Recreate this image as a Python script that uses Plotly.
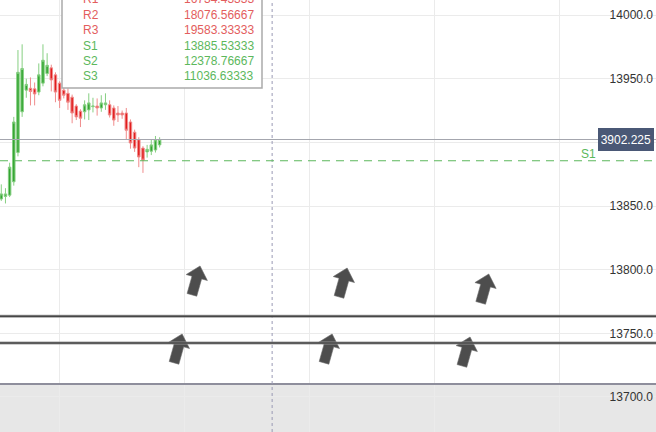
import numpy as np
import plotly.graph_objects as go

# ---- data ----
t = list(range(39))
opens  = [13855.5,13857.5,13858.5,13869,13892,13924,13941,13942.5,13942,13939.5,13946.5,13954,13958.5,13953,13946.5,13941,13938.5,13935.5,13928.5,13924.5,13924,13925.5,13928,13928.5,13927,13929.5,13929.5,13927,13923,13923,13923,13916,13908,13902,13895.5,13892.5,13893,13894,13898]
highs  = [13867,13864,13884,13920,13972.5,13977,13950,13951,13947,13962,13977,13970,13961,13955,13948,13945,13942.5,13937.5,13930,13926,13933,13938.5,13935,13934.5,13937,13938.5,13933,13929,13928.5,13925,13927,13918,13910,13904,13897,13898,13902,13905,13904]
lows   = [13854,13852,13857,13866,13889,13920,13935,13929,13929,13937,13944,13952,13940,13931.5,13927,13934.5,13925.5,13915,13917.5,13912,13918,13917.5,13923.5,13921,13924,13925.5,13919.5,13913,13916,13918.5,13902,13895,13892.5,13880.5,13876,13888,13890,13892,13896]
closes = [13859.5,13859.5,13880.5,13916,13955,13958,13945.5,13940,13938,13953,13964.5,13960.5,13949,13939.5,13933,13937,13931.5,13923,13920,13919,13929.5,13931,13928.5,13927,13931,13931,13921.5,13917.5,13921.5,13921.5,13909.5,13899.5,13895.5,13888.5,13886,13894.5,13898,13902,13902.225]

last_price = 13902.225
pivot_names  = ["P", "R1", "R2", "R3", "S1", "S2", "S3"]
pivot_values = [15227.66667, 16734.43333, 18076.56667, 19583.33333, 13885.53333, 12378.76667, 11036.63333]

level_lines = [13763.5, 13742.5]
shade_top = 13710.2
marker_time = 65

arrow_t     = [47.7, 83.0, 117.0, 43.4, 79.4, 112.5]
arrow_price = [13802.9, 13801.3, 13796.6, 13749.5, 13749.5, 13747.1]

grid_t = [14, 44, 74, 104, 134]

FONT = "Liberation Sans, Arial, sans-serif"
GREEN = "#5cb85c"
RED = "#e35d5d"

fig = go.Figure()
fig.add_trace(go.Candlestick(
    x=t, open=opens, high=highs, low=lows, close=closes,
    increasing=dict(line=dict(color="#86cf82", width=1), fillcolor="#34a532"),
    decreasing=dict(line=dict(color="#f08c8c", width=1), fillcolor="#e11d1d"),
    whiskerwidth=0, showlegend=False, hoverinfo="skip",
))

shapes = []
# shaded lower region
shapes.append(dict(type="rect", xref="paper", yref="y", x0=0, x1=1, y0=13000, y1=shade_top,
                   fillcolor="#e7e7e7", line=dict(width=0), layer="below"))
shapes.append(dict(type="line", xref="paper", yref="y", x0=0, x1=1, y0=shade_top, y1=shade_top,
                   line=dict(color="#8e8e9c", width=2)))
# vertical dashed marker
shapes.append(dict(type="line", xref="x", yref="paper", x0=marker_time, x1=marker_time, y0=0, y1=1,
                   line=dict(color="#9a9ab4", width=1, dash="3px,3px")))
# last price line
shapes.append(dict(type="line", xref="paper", yref="y", x0=0, x1=1, y0=last_price, y1=last_price,
                   line=dict(color="#a4a6ae", width=1)))
# S1 dashed line
s1 = pivot_values[pivot_names.index("S1")]
shapes.append(dict(type="line", xref="paper", yref="y", x0=0, x1=1, y0=s1, y1=s1,
                   line=dict(color=GREEN, width=1.2, dash="8px,6px")))

# arrows (pixel-sized path anchored at data points)
theta = np.deg2rad(15.7)
local = [(0, 0), (11, 12), (5, 12), (5, 30), (-5, 30), (-5, 12), (-11, 12)]
def arrow_path():
    pts = []
    for a, b in local:
        sx = a * np.cos(theta) - b * np.sin(theta)
        sy = a * np.sin(theta) + b * np.cos(theta)
        pts.append((sx, -sy))
    return "M " + " L ".join(f"{x:.2f},{y:.2f}" for x, y in pts) + " Z"
ap = arrow_path()
for at, apr in zip(arrow_t, arrow_price):
    shapes.append(dict(type="path", xref="x", yref="y", xsizemode="pixel", ysizemode="pixel",
                       xanchor=at, yanchor=apr, path=ap, fillcolor="#4d4d4d",
                       line=dict(color="#6a6a6a", width=0.6)))
# level lines
for lv in level_lines:
    shapes.append(dict(type="line", xref="paper", yref="y", x0=0, x1=1, y0=lv, y1=lv,
                       line=dict(color="rgba(150,150,150,0.9)", width=3)))
    shapes.append(dict(type="line", xref="paper", yref="y", x0=0, x1=1, y0=lv, y1=lv,
                       line=dict(color="rgba(60,60,60,0.9)", width=1.5)))

# legend box with pivot values
shapes.append(dict(type="rect", xref="paper", yref="paper",
                   x0=62/656, x1=262/656, y0=1-88/432, y1=1.2,
                   fillcolor="white", line=dict(color="#ababab", width=1.5)))

annotations = []
row_y = [-16, -0.5, 15, 30, 45.5, 61, 76]
for name, val, ry in zip(pivot_names, pivot_values, row_y):
    col = RED if name.startswith("R") else (GREEN if name.startswith("S") else "#666")
    annotations.append(dict(xref="paper", yref="paper", x=81/656, y=1-ry/432, text=name,
                            showarrow=False, xanchor="left", yanchor="middle",
                            font=dict(family=FONT, size=12, color=col)))
    annotations.append(dict(xref="paper", yref="paper", x=256/656, y=1-ry/432, text=f"{val:.5f}",
                            showarrow=False, xanchor="right", yanchor="middle",
                            font=dict(family=FONT, size=12, color=col)))
# S1 tag on right
annotations.append(dict(xref="paper", yref="y", x=598/656, y=s1, text="S1", showarrow=False,
                        xanchor="right", yanchor="bottom", yshift=-2,
                        font=dict(family=FONT, size=12, color=GREEN)))
# last price badge (fixed width: the leading digit is clipped as in the reference)
annotations.append(dict(xref="paper", yref="y", x=1, y=last_price, xshift=-2, text=f"{last_price:.3f}",
                        showarrow=False, xanchor="right", yanchor="middle",
                        width=50, height=17, align="right",
                        bgcolor="#4a5876", bordercolor="#4a5876", borderpad=2,
                        font=dict(family=FONT, size=12, color="white")))

fig.update_layout(
    width=656, height=432, margin=dict(l=0, r=0, t=0, b=0),
    paper_bgcolor="white", plot_bgcolor="white",
    shapes=shapes, annotations=annotations, showlegend=False,
    boxgap=0.15,
    xaxis=dict(range=[-0.31, 157.13], tickvals=grid_t, showticklabels=False, showgrid=True,
               gridcolor="#ebebeb", zeroline=False, showline=False, rangeslider=dict(visible=False),
               fixedrange=True),
    yaxis=dict(range=[13672.5, 14011.8], tick0=13700, dtick=50, tickformat=".1f", side="right",
               ticklabelposition="inside", ticks="", gridcolor="#ebebeb", zeroline=False,
               showline=False, tickfont=dict(family=FONT, size=12, color="#333"), fixedrange=True),
)

fig.write_html("out.html", config={"displayModeBar": False},
               post_script="document.body.style.margin='0';document.body.style.overflow='hidden';")
